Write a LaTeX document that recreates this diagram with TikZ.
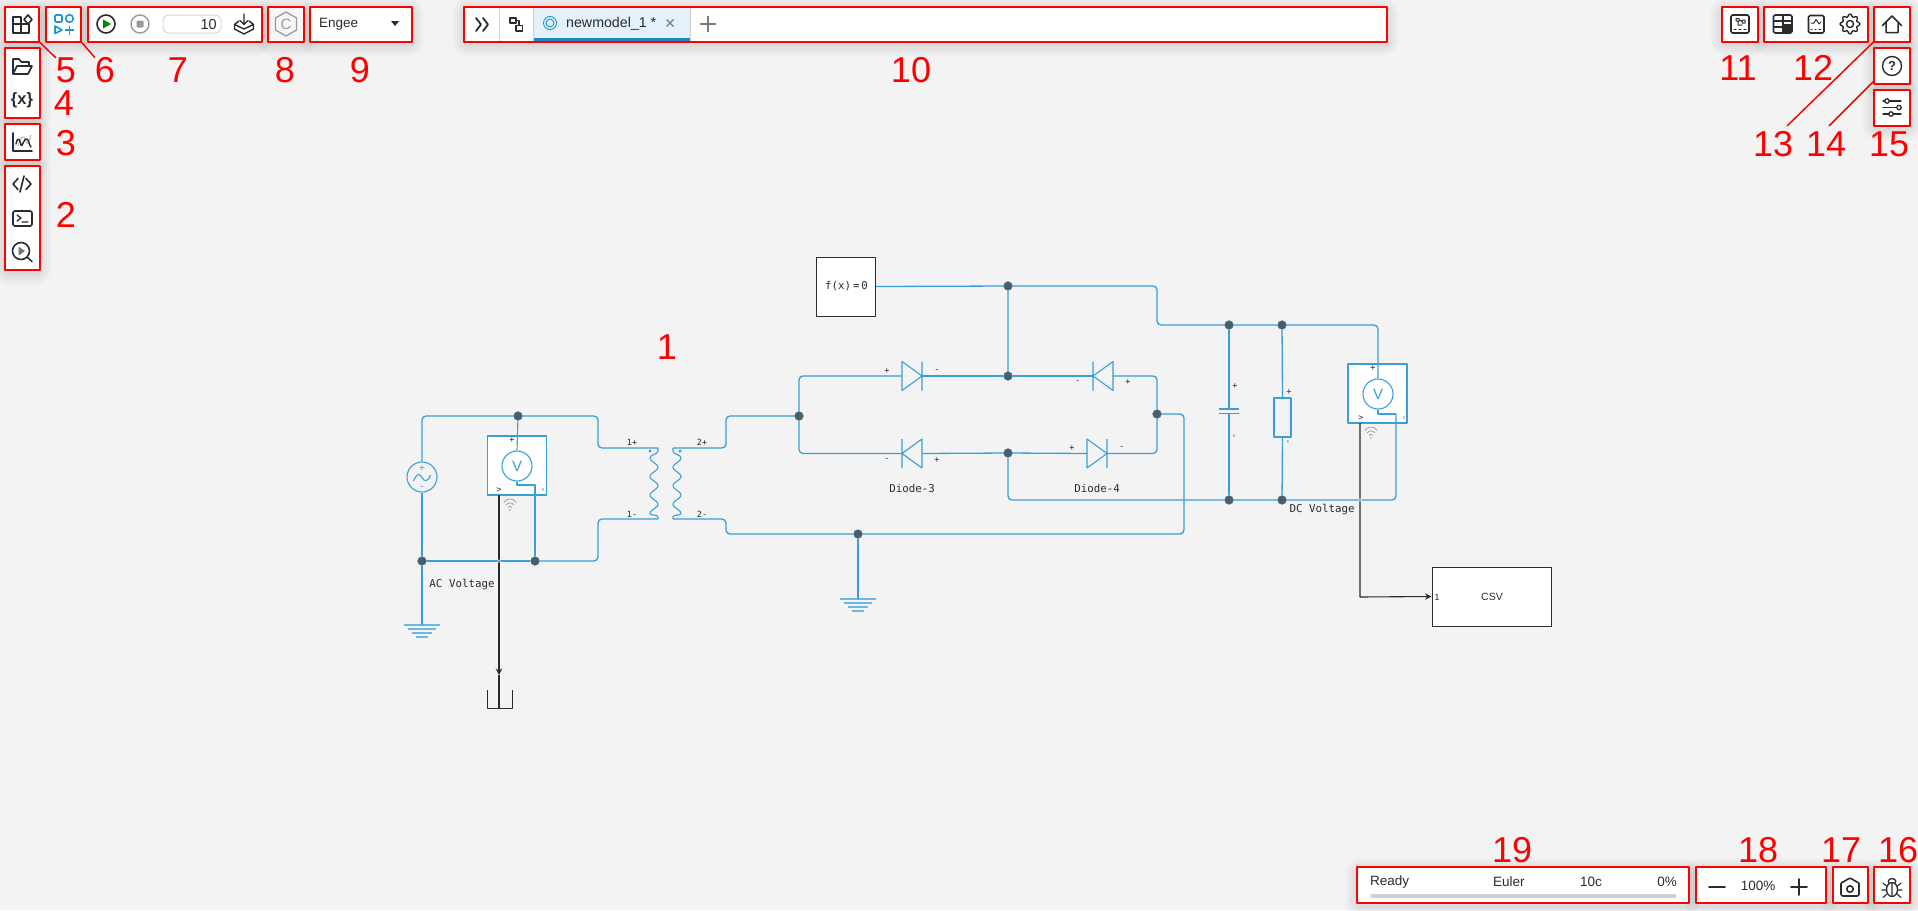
\documentclass[tikz,border=0pt]{standalone}
\usepackage{fontspec}
\setmainfont{Liberation Sans}
\newfontfamily\monofont{DejaVu Sans Mono}
\usetikzlibrary{arrows.meta,calc}
\definecolor{bgc}{HTML}{F3F3F3}
\definecolor{wireblue}{HTML}{3A9FD8}
\definecolor{gndblue}{HTML}{6DB8E0}
\definecolor{dotgray}{HTML}{4F5B65}
\definecolor{inkc}{HTML}{2B2B2B}
\definecolor{iconblue}{HTML}{1B96D6}
\definecolor{tabc}{HTML}{E4F1FA}
\definecolor{tabbar}{HTML}{1F86BF}
\definecolor{greyc}{HTML}{9A9A9A}
\definecolor{wific}{HTML}{A58FA0}
\tikzset{
	redbox/.style={draw=red,line width=2pt,inner sep=0pt,outer sep=0pt},
	num/.style={text=red,inner sep=0pt,font=\fontsize{36}{38}\selectfont},
	uitext/.style={text=inkc,inner sep=0pt,font=\fontsize{13.5}{15}\selectfont},
	wire/.style={draw=wireblue,line width=1.3pt,rounded corners=4pt},
	thinwire/.style={draw=wireblue,line width=1.1pt},
	signal/.style={draw=inkc,line width=1.1pt},
	dot/.style={circle,fill=dotgray,draw=wireblue,line width=.3pt,inner sep=0pt,minimum size=9pt},
	sensor/.style={circle,draw=wireblue,line width=1.1pt,text=wireblue,inner sep=0pt,minimum size=30pt,font=\fontsize{15}{16}\selectfont},
	block/.style={draw=inkc,line width=1pt,fill=white,inner sep=0pt},
	sensorbox/.style={draw=wireblue,line width=1.1pt,fill=white,inner sep=0pt,minimum size=59pt},
	captext/.style={text=inkc,inner sep=0pt,font=\monofont\fontsize{10.8}{12}\selectfont},
	pinlabel/.style={text=inkc,inner sep=0pt,font=\monofont\fontsize{8.5}{10}\selectfont},
	icon/.style={draw=inkc,line width=1.6pt,line cap=round,line join=round},
	iconb/.style={draw=iconblue,line width=1.6pt,line join=round},
	icong/.style={draw=greyc,line width=1.4pt,line join=round},
}
\begin{document}
\begin{tikzpicture}[x=1pt,y=-1pt,>={Stealth[length=6.5pt,width=6.5pt]},line join=round]
	\useasboundingbox (0,0) rectangle (1918,910);
	\fill[bgc] (0,0) rectangle (1918,910);
	\def\boxlist{b5/4.5/6.5/39/41.5,b6/46/6.5/81/41.5,b7/88/6.5/262/41.5,b8/268/6.5/304/41.5,b9/310/6.5/412/41.5,b10/464/6.5/1387/41.5,b11/1722/6.5/1758/41.5,b12/1764/6.5/1868/41.5,b13/1874/6.5/1910/41.5,b14/1874/48/1910/84,b15/1874/90/1910/126,b4/4.5/48/39.5/117.5,b3/4.5/124/39.5/160,b2/4.5/166/39.5/270,b19/1357/867/1689/903,b18/1696/867/1826/903,b17/1833/867/1868/903,b16/1874/867/1910/903}

	% soft shadows, then panels
	\foreach \n/\xa/\ya/\xb/\yb in \boxlist {
		\foreach \w in {3,6,...,24}
			\draw[black,opacity=.012,line width=\w pt,rounded corners=4pt] (\xa,\ya+3) rectangle (\xb,\yb+3);
	}
	\foreach \n/\xa/\ya/\xb/\yb in \boxlist
		\fill[white] (\xa,\ya) rectangle (\xb,\yb);
	\fill[black!3] (268,6.5) rectangle (304,41.5);

	% toolbar content
	\fill[tabc] (533,8) rectangle (690,38);
	\fill[tabbar] (533,38) rectangle (690,41);
	\draw[black!18,line width=1pt] (499,7)--(499,41) (533,7)--(533,41) (690,7)--(690,41);
	\draw[icon,line width=1.8pt] (476,18)--(481,24.5)--(476,31) (483,18)--(488,24.5)--(483,31);
	\draw[icon,line width=1.1pt] (510,18) rectangle (516,23) (516,25.5) rectangle (522.5,31) (516,20.5)--(519,20.5)--(519,25.5);
	\draw[draw=iconblue,line width=.9pt] (550,23) circle (6.5) (550,23) circle (4);
	\node[uitext,anchor=west] (tabname) at (566,24) {\fontsize{14.2}{16}\selectfont newmodel\_1 *};
	\draw[draw=greyc!80!black,line width=1.1pt] (666.5,19.5)--(673.5,26.5) (666.5,26.5)--(673.5,19.5);
	\draw[draw=greyc!80!black,line width=1.5pt] (700,24)--(716,24) (708,16)--(708,32);

	% tile icons
	\draw[icon] (13,24)--(29,24)--(29,33)--(13,33)--(13,17)--(21,17)--(21,33);
	\draw[icon,fill=white] (28,15)--(32,19.5)--(28,24)--(24,19.5)--cycle;
	\draw[iconb,rounded corners=1pt] (55,15) rectangle (62,22);
	\draw[iconb] (69.5,18.5) circle (3.8);
	\draw[iconb] (55,26)--(62,30)--(55,33.5)--cycle;
	\draw[iconb] (65,30)--(74,30) (69.5,25.5)--(69.5,34.5);

	% run group
	\draw[icon] (106,24) circle (9);
	\fill[green!55!black] (103,19.5)--(111,24)--(103,28.5)--cycle;
	\draw[icong] (140,24) circle (9);
	\fill[greyc,rounded corners=1pt] (136.5,20.5) rectangle (143.5,27.5);
	\draw[black!15,line width=1pt,rounded corners=6pt] (163,15) rectangle (221,33);
	\node[uitext,anchor=east] (stoptime) at (217,24.5) {\fontsize{14.5}{16}\selectfont 10};
	\draw[icon,line width=1.4pt] (244,14)--(244,24) (240,20.5)--(244,24.5)--(248,20.5);
	\draw[icon,line width=1.4pt] (239,21)--(234.5,24.5)--(244,29)--(253.5,24.5)--(249,21) (234.5,24.5)--(234.5,29)--(244,34)--(253.5,29)--(253.5,24.5);

	% hexagon and dropdown
	\draw[draw=greyc,line width=1.3pt] (286,12)--(296.5,18)--(296.5,30)--(286,36)--(275.5,30)--(275.5,18)--cycle;
	\node[text=greyc,inner sep=0pt,font=\fontsize{15}{16}\selectfont] (hexc) at (286,24) {C};
	\node[uitext,anchor=west] (solver) at (319,24) {Engee};
	\fill[inkc] (391,21)--(399,21)--(395,26)--cycle;

	% left column
	\draw[icon] (13,74)--(13,59)--(19,59)--(21.5,62)--(29,62)--(29,66) (13,74)--(17,66)--(32,66)--(28,74)--cycle;
	\node[text=inkc,inner sep=0pt,font=\bfseries\fontsize{16.5}{18}\selectfont] (vars) at (22,100) {\{x\}};
	\draw[black!22,line width=1.4pt] (18,146) .. controls (21,136) and (24,134) .. (26,141) .. controls (27,146) and (29,144) .. (31,135);
	\draw[icon,line width=1.4pt] (16,144) .. controls (18,135) and (20,140) .. (21,145) .. controls (22,149) and (24,137) .. (27,139) .. controls (29,140) and (29,145) .. (31,147);
	\draw[icon] (13,133)--(13,151)--(32,151);
	\draw[icon] (18,178.5)--(13,184)--(18,189.5) (26,178.5)--(31,184)--(26,189.5) (24,176)--(20,192);
	\draw[icon,rounded corners=1.5pt] (13,211) rectangle (32,226);
	\draw[icon,line width=1.3pt] (17,215)--(21,218)--(17,221) (22,222)--(28,222);
	\draw[icon] (21,251) circle (8.5) (27.5,257.5)--(32,261.5);
	\fill[black!55] (18.5,246.5)--(25,251)--(18.5,255.5)--cycle;

	% right group
	\draw[icon,rounded corners=1.5pt] (1731,15) rectangle (1749,33);
	\draw[icon,line width=1.1pt] (1734,29.5)--(1736,29.5) (1739,29.5)--(1741,29.5) (1744,29.5)--(1746,29.5);
	\draw[icon,line width=1pt] (1736,18.5) rectangle (1739,21) (1742,20) rectangle (1745,23) (1739,20)--(1742,21.5) (1738,21)--(1738,25)--(1742,25);
	\fill[inkc] (1783,24) rectangle (1792,33);
	\draw[icon,rounded corners=1.5pt] (1773.5,15) rectangle (1792,33);
	\draw[icon] (1773.5,21)--(1792,21) (1773.5,27)--(1783,27) (1783,15)--(1783,33);
	\draw[icon,rounded corners=1.5pt] (1808.5,15.5) rectangle (1824,33);
	\draw[icon,line width=1pt] (1811,23)--(1814,23)--(1816,19.5)--(1819,24)--(1821,22);
	\draw[icon,line width=1.1pt] (1811,29.5)--(1812,29.5) (1815,29.5)--(1816,29.5) (1819,29.5)--(1820.5,29.5);
	\draw[icon,line width=1.4pt] plot[smooth,samples=65,domain=0:360] ({1850+(8.6+1.3*cos(8*\x))*cos(\x)},{24+(8.6+1.3*cos(8*\x))*sin(\x)}) -- cycle;
	\draw[icon,line width=1.4pt] (1850,24) circle (3.5);
	\draw[icon,line width=1.5pt] (1882.5,25.5)--(1892,16)--(1901.5,25.5) (1886,22.5)--(1886,32.5)--(1898,32.5)--(1898,22.5);
	\draw[icon,line width=1.4pt] (1892,66) circle (9.5);
	\node[text=inkc,inner sep=0pt,font=\bfseries\fontsize{13}{14}\selectfont] (helpq) at (1892,66) {?};
	\draw[icon,line width=1.3pt] (1883,101)--(1901,101) (1883,107.5)--(1901,107.5) (1883,114)--(1901,114);
	\draw[icon,line width=1.3pt,fill=white] (1887,101) circle (2.2) (1899,107.5) circle (2.2) (1891,114) circle (2.2);

	% status bar
	\node[uitext,anchor=west] (ready) at (1370,882) {Ready};
	\node[uitext,anchor=west] (euler) at (1493,882) {Euler};
	\node[uitext,anchor=west] (tleft) at (1580,882) {10c};
	\node[uitext,anchor=east] (pct) at (1677,882) {0\%};
	\draw[black!18,line width=3.5pt,line cap=round] (1372,896)--(1675,896);
	\draw[icon] (1709,887)--(1725,887) (1791,887)--(1807,887) (1799,879)--(1799,895);
	\node[uitext] (zoomv) at (1758,886) {100\%};
	\draw[icon,rounded corners=2pt] (1841,882) -- (1845,882) -- (1847,878.5) -- (1853,878.5) -- (1855,882) -- (1859,882) -- (1859,896) -- (1841,896) -- cycle;
	\draw[icon] (1850,889) circle (3.2);
	\draw[icon,line width=1.3pt] (1892,881.5) ellipse (3.8 and 3);
	\draw[icon,line width=1.3pt,fill=white] (1892,889.5) ellipse (5.5 and 7);
	\draw[icon,line width=1.1pt] (1892,883)--(1892,896) (1886.5,886)--(1883,883) (1897.5,886)--(1901,883) (1886,890)--(1882,890) (1898,890)--(1902,890) (1887,894)--(1883,897.5) (1897,894)--(1901,897.5);

	% red frames and numbers
	\foreach \n/\xa/\ya/\xb/\yb in \boxlist
		\node[redbox,minimum width={(\xb-\xa)*1pt},minimum height={(\yb-\ya)*1pt}] (\n) at ({(\xa+\xb)/2},{(\ya+\yb)/2}) {};
	\foreach \t/\x/\y in {1/667/347,2/66/215,3/66/143,4/64/103,5/66/70.5,6/105/70.5,7/178/70.5,8/285/70.5,9/360/70.5,10/911/70.5,11/1738/68,12/1813/68,13/1773/144,14/1826/144,15/1889/144,16/1898/850,17/1841/850,18/1758/850,19/1512/850}
		\node[num] (n\t) at (\x,\y) {\t};
	\coordinate (e13) at (1787,126);
	\coordinate (e14) at (1829,126);
	\draw[red,line width=1.5pt] (b5.south east)--(n5.north west) (b6.south east)--(n6.north west);
	\draw[red,line width=1.5pt] (b13.south west)--(e13) ($(b14.south west)+(0,-3)$)--(e14);

	% model: blocks
	\node[sensorbox] (vb1) at (517,465.5) {};
	\node[sensorbox] (vb2) at (1377.5,393.5) {};
	\node[sensor] (vs1) at (517,466) {V};
	\node[sensor] (vs2) at (1378,394) {V};
	\node[circle,draw=wireblue,line width=1.1pt,minimum size=30pt,inner sep=0pt] (src) at (422,477) {};
	\node[block,minimum size=59pt] (fx) at (846,286.5) {};
	\node[captext] (fxt) at (846.5,286) {f(x)\,=\,0};
	\node[block,minimum width=119pt,minimum height=59pt] (csv) at (1491.5,596.5) {};
	\node[text=inkc,inner sep=0pt,font=\fontsize{10.5}{12}\selectfont] (csvt) at (1492,597) {CSV};
	\node[text=inkc,inner sep=0pt,font=\monofont\fontsize{8.5}{10}\selectfont] (csvp) at (1437,597.5) {1};
	\node[draw=wireblue,line width=1.1pt,minimum width=17pt,minimum height=39pt,inner sep=0pt] (res) at (1282.5,417.5) {};

	% diodes
	\foreach \n/\xa/\xb/\y in {d1/902/922/376,d2/1113/1093/376,d3/922/902/453.5,d4/1087/1107/453.5} {
		\coordinate (\n a) at (\xa,\y);
		\coordinate (\n k) at (\xb,\y);
		\draw[thinwire] (\xa,\y-14.5)--(\xb,\y)--(\xa,\y+14.5)--cycle (\xb,\y-14.5)--(\xb,\y+14.5);
	}

	% transformer
	\coordinate (t1p) at (658,448);
	\coordinate (t1m) at (658,519);
	\coordinate (t2p) at (673,448);
	\coordinate (t2m) at (673,519);
	\draw[thinwire] (t1p) -- (658,451) .. controls (658,455) and (650,454) .. (650,458) -- plot[smooth,samples=61,domain=0:3] ({654-4*cos(360*\x)},{458+18.5*\x}) .. controls (650,516) and (658,514) .. (658,517) -- (t1m);
	\draw[thinwire] (t2p) -- (673,451) .. controls (673,455) and (681,454) .. (681,458) -- plot[smooth,samples=61,domain=0:3] ({677+4*cos(360*\x)},{458+18.5*\x}) .. controls (681,516) and (673,514) .. (673,517) -- (t2m);
	\fill[wireblue] (650,451) circle (1.7) (680,451) circle (1.7);

	% ground marks and capacitor
	\foreach \n/\x/\y in {g1/422/625,g2/858/599} {
		\coordinate (\n) at (\x,\y);
		\draw[gndblue,line width=1.6pt] (\x-18,\y)--(\x+18,\y) (\x-14,\y+4)--(\x+14,\y+4) (\x-10,\y+8)--(\x+10,\y+8) (\x-6,\y+12)--(\x+6,\y+12);
	}
	\coordinate (cap1) at (1229,409);
	\coordinate (cap2) at (1229,413.5);
	\draw[thinwire,line width=1.4pt] (1219,409)--(1239,409) (1219,413.5)--(1239,413.5);

	% junctions
	\foreach \n/\x/\y in {jtop/518/416,jacl/422/561,jacr/535/561,jb1/799/416,jb2/1157/414,jf/1008/286,jd1/1008/376,jd2/1008/453,jg/858/534,jc1/1229/325,jr1/1282/325,jc2/1229/500,jr2/1282/500}
		\node[dot] (\n) at (\x,\y) {};

	% corners
	\coordinate (k1) at (598,448);
	\coordinate (k2) at (598,519);
	\coordinate (k3) at (535,485);
	\coordinate (k4) at (726,448);
	\coordinate (k5) at (726,519);
	\coordinate (k6) at (1184,534);
	\coordinate (k7) at (1184,414);
	\coordinate (k8) at (1157,286);
	\coordinate (k9) at (1378,325);
	\coordinate (k10) at (1396,500);
	\coordinate (k11) at (1396,414);
	\coordinate (k12) at (1378,414);

	% wires
	\draw[wire] (src.north) |- (jtop);
	\draw[wire] (jtop) -| (k1) -- (t1p);
	\draw[wire] (t1m) -- (k2) |- (jacr);
	\draw[wire] (jacl) -- (jacr);
	\draw[wire] (src.south) -- (jacl);
	\draw[wire] (jacl) -- (g1);
	\draw[thinwire] (jtop) -- (vs1.north);
	\draw[thinwire] (vs1.south) |- (k3) -- (jacr);
	\draw[wire] (t2p) -- (k4) |- (jb1);
	\draw[wire] (t2m) -- (k5) |- (jg);
	\draw[wire] (jg) -- (k6) -- (k7) -- (jb2);
	\draw[wire] (jg) -- (g2);
	\draw[wire] (jb1) |- (d1a);
	\draw[wire] (d1k) -- (jd1) -- (d2k);
	\draw[wire] (d2a) -| (jb2);
	\draw[wire] (jb2) |- (d4k);
	\draw[wire] (d4a) -- (jd2) -- (d3a);
	\draw[wire] (d3k) -| (jb1);
	\draw[wire] (fx.east) -- (jf) -- (jd1);
	\draw[wire] (jf) -- (k8) |- (jc1);
	\draw[wire] (jc1) -- (jr1) -- (k9) -- (vs2.north);
	\draw[wire] (jd2) |- (jc2);
	\draw[wire] (jc2) -- (jr2) -- (k10) -- (k11);
	\draw[thinwire] (k11) -- (k12) -- (vs2.south);
	\draw[wire] (jc1) -- (cap1);
	\draw[wire] (cap2) -- (jc2);
	\draw[wire] (jr1) -- (res.north);
	\draw[wire] (res.south) -- (jr2);

	% signal lines
	\coordinate (o1) at (499,495);
	\coordinate (o2) at (1360,423);
	\coordinate (arr1) at (499,675);
	\coordinate (termb) at (499,708);
	\coordinate (k13) at (1360,597);
	\draw[signal] (arr1) -- (termb);
	\draw[signal,->] (o1) -- (arr1);
	\draw[signal,rounded corners=0pt,->] (o2) -- (k13) -- (csv.west);
	\draw[signal,line width=1pt] (487,690)--(487,708)--(512,708)--(512,690);
	\fill[white,opacity=.55] (497.5,559.5) rectangle (500.5,562.5) (1358.5,498.5) rectangle (1361.5,501.5);

	% wifi marks
	\foreach \x/\y in {510/505,1371/433} {
		\draw[wific,line width=.7pt] (\x-6,\y-2.5) arc (-150:-30:7) (\x-4,\y) arc (-150:-30:4.6) (\x-2,\y+2.5) arc (-150:-30:2.3);
		\fill[wific] (\x,\y+5) circle (.8);
	}

	% source face
	\node[text=wireblue,inner sep=0pt,font=\fontsize{10}{11}\selectfont] (srcp) at (422,468.5) {+};
	\node[text=wireblue,inner sep=0pt,font=\fontsize{10}{11}\selectfont] (srcm) at (422,487.5) {-};
	\draw[thinwire] (413.5,481) .. controls (417,473) and (420,473) .. (422,477.5) .. controls (424,482) and (428,482) .. (430.5,475);

	% texts
	\node[captext] (acv) at (462,585) {AC Voltage};
	\node[captext] (dcv) at (1322,510) {DC Voltage};
	\node[captext] (d3t) at (912,488) {Diode-3};
	\node[captext] (d4t) at (1097,488) {Diode-4};
	\foreach \x/\y/\t [count=\i] in {632/442/1+,632/514/1-,702/442/2+,702/514/2-,887/371/+,937/371/-,1078/382/-,1128/382/+,887/460/-,937/460/+,1072/448/+,1122/448/-,1235/386/+,1289/392/+,512/440/+,1373/368/+,499/490/>,1361/418/>}
		\node[pinlabel] (pl\i) at (\x,\y) {\t};
	\foreach \x/\y [count=\i] in {1235/436,1289/442,544/490,1405/418}
		\node[pinlabel,rotate=90] (pr\i) at (\x,\y) {-};
\end{tikzpicture}
\end{document}
